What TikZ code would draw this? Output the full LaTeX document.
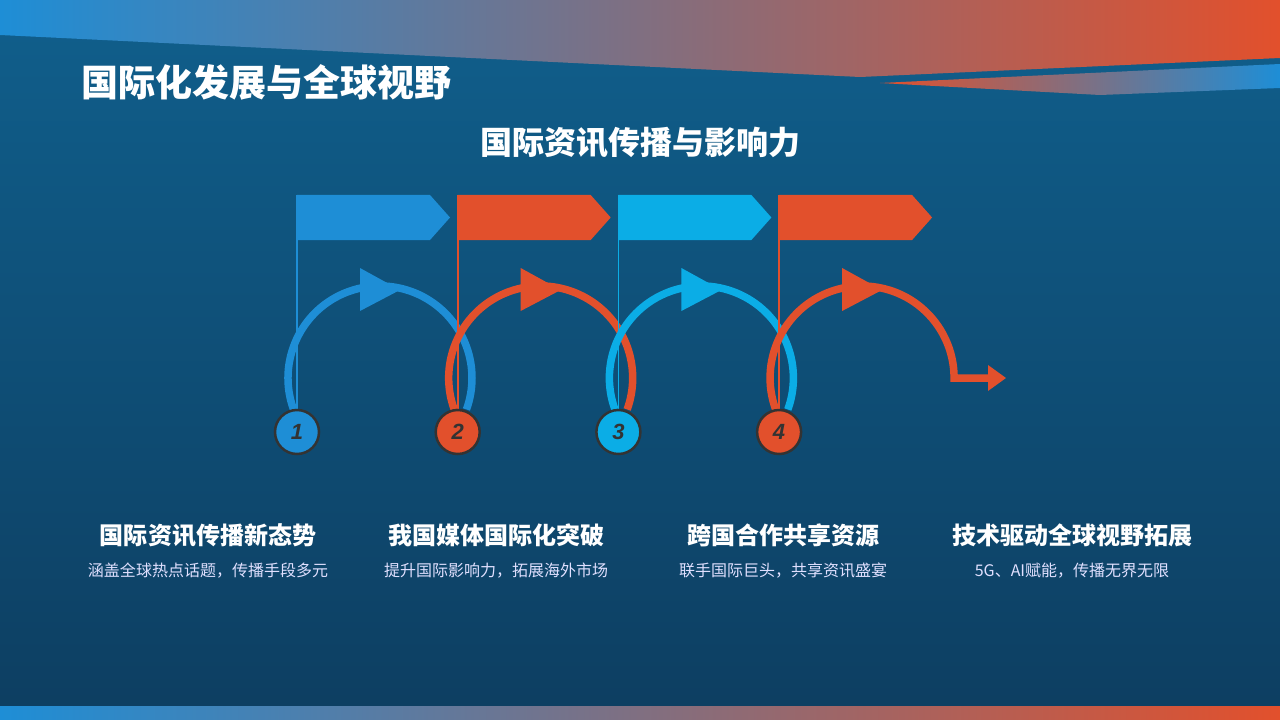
\documentclass[tikz,border=0pt]{standalone}
\usepackage{fontspec}
\setmainfont{Noto Sans CJK SC}
\newfontfamily\numfont{Liberation Sans}
\begin{document}
\begin{tikzpicture}[x=1bp,y=-1bp,
  ttl/.style={text=white,font=\fontsize{37bp}{42bp}\selectfont\bfseries},
  head/.style={text=white,font=\fontsize{24bp}{28bp}\selectfont\bfseries},
  desc/.style={text=white!88!blue,font=\fontsize{16bp}{19bp}\selectfont},
  num/.style={circle,minimum size=44bp,inner sep=0,draw=black!80,line width=2.5bp,text=black!80,font=\fontsize{22bp}{26bp}\numfont\bfseries\itshape},
  loop/.style={line width=7.5bp}]
\definecolor{bA}{HTML}{1E8ED6}
\definecolor{oA}{HTML}{E2502C}
\definecolor{cA}{HTML}{0BADE6}
\definecolor{pA}{HTML}{9A6C9A}
\useasboundingbox (0,0) rectangle (1280,720);
\shade[top color={rgb,255:red,16;green,95;blue,140},bottom color={rgb,255:red,13;green,62;blue,97}] (0,0) rectangle (1280,720);
\shade[left color=bA,middle color=pA,right color=oA] (0,0) -- (1280,0) -- (1280,58) -- (860,77) -- (0,35) -- cycle;
\shade[left color=oA,middle color=pA,right color=bA] (880,83) -- (1280,64) -- (1280,88) -- (1100,95) -- cycle;
\shade[left color=bA,middle color=pA,right color=oA] (0,706) rectangle (1280,720);
\node[ttl,anchor=west] (t) at (78,82) {国际化发展与全球视野};
\node[text=white,font=\fontsize{32bp}{36bp}\selectfont\bfseries] (st) at (640,143) {国际资讯传播与影响力};
\foreach \i/\c/\n/\hx/\h/\d in {0/bA/1/208/国际资讯传播新态势/涵盖全球热点话题，传播手段多元,1/oA/2/496/我国媒体国际化突破/提升国际影响力，拓展海外市场,2/cA/3/783/跨国合作共享资源/联手国际巨头，共享资讯盛宴,3/oA/4/1072/技术驱动全球视野拓展/5G、AI赋能，传播无界无限}{
  \pgfmathsetmacro\px{297+160.7*\i}
  \pgfmathsetmacro\cx{380+160.7*\i}
  \fill[\c] (\px,195) -- (\px+133,195) -- (\px+153,217.5) -- (\px+133,240) -- (\px,240) -- cycle;
  \draw[\c,line width=1.8bp] (\px,195) -- (\px,410);
  \ifnum\n<4
    \draw[\c,loop] (\cx,378) ++(-200:92) arc[start angle=-200,end angle=20,radius=92];
  \else
    \coordinate (ae) at (988,378);
    \draw[\c,loop] (\cx,378) ++(-200:92) arc[start angle=-200,end angle=0,radius=92] -- (ae);
    \fill[\c] (988,365) -- (1006,378) -- (988,391) -- cycle;
  \fi
  \fill[\c] (\cx-20,268) -- (\cx+20,290) -- (\cx-20,311) -- cycle;
  \node[num,fill=\c] (n\n) at (\px,432) {\n};
  \node[head] (h\n) at (\hx,535) {\h};
  \node[desc] (d\n) at (\hx,571) {\d};
}
\end{tikzpicture}
\end{document}
